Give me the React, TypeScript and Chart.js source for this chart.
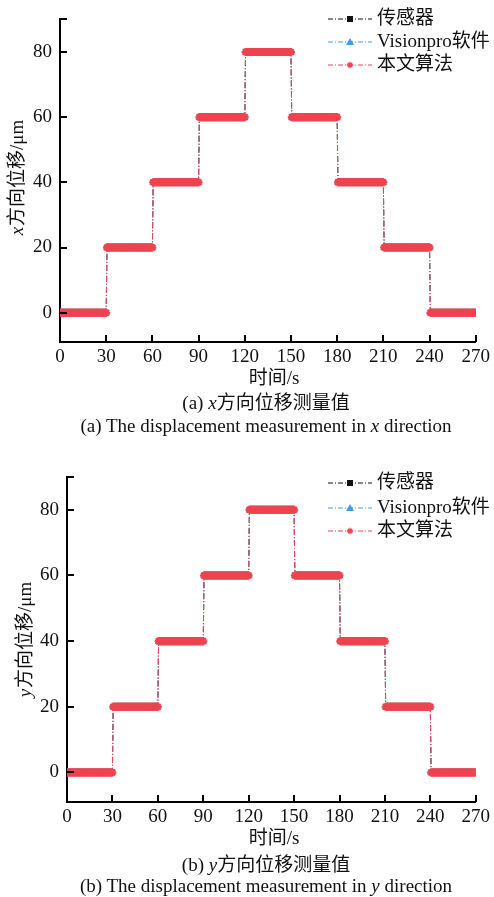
import React, { useEffect, useRef } from 'react';
import { Chart, registerables } from 'chart.js';

Chart.register(...registerables);

// ---------- data ----------
const timeTicks = [0, 30, 60, 90, 120, 150, 180, 210, 240, 270];
const dispTicks = [0, 20, 40, 60, 80];
const segmentStarts = [0, 30, 60, 90, 120, 150, 180, 210, 240];
const segmentEnds = [30, 60, 90, 120, 150, 180, 210, 240, 270];
const sampleStep = 0.5;

const xSensor = [0, 20, 40, 60, 80, 60, 40, 20, 0];
const xVisionpro = [0, 20, 40, 60, 80, 60, 40, 20, 0];
const xOurs = [0, 20, 40, 60, 80, 60, 40, 20, 0];

const ySensor = [0, 20, 40, 60, 80, 60, 40, 20, 0];
const yVisionpro = [0, 20, 40, 60, 80, 60, 40, 20, 0];
const yOurs = [0, 20, 40, 60, 80, 60, 40, 20, 0];

const seriesNames = ['传感器', 'Visionpro软件', '本文算法'];
const xAxisTitle = '时间/s';
const yAxisRest = '方向位移/μm';

const FONT = '"Liberation Serif", "Noto Sans CJK SC", serif';
const FS = 19;
const BLACK = '#111111';
const BLUE = '#3f9fdc';
const RED = '#ee4450';

function expand(levels: number[]) {
  const pts: { x: number; y: number }[] = [];
  for (let i = 0; i < levels.length; i++) {
    const start = segmentStarts[i] + (i === 0 ? 0 : sampleStep);
    for (let t = start; t <= segmentEnds[i] + 1e-9; t += sampleStep) {
      pts.push({ x: t, y: levels[i] });
    }
  }
  return pts;
}

type Cfg = {
  height: number;
  pad: { left: number; right: number; top: number };
  yWidth: number;
  xHeight: number;
  legendRows: number[];
  xTitleX: number;
  xTitleY: number;
  yTitleX: number;
  yTitleY: number;
  variable: string;
  series: number[][];
};

function drawMarker(ctx: CanvasRenderingContext2D, kind: number, x: number, y: number) {
  ctx.save();
  ctx.setLineDash([]);
  if (kind === 0) {
    ctx.fillStyle = BLACK;
    ctx.fillRect(x - 3, y - 3, 6, 6);
  } else if (kind === 1) {
    ctx.fillStyle = BLUE;
    ctx.beginPath();
    ctx.moveTo(x, y - 4);
    ctx.lineTo(x + 4, y + 3);
    ctx.lineTo(x - 4, y + 3);
    ctx.closePath();
    ctx.fill();
  } else {
    ctx.strokeStyle = RED;
    ctx.lineWidth = 1.3;
    ctx.beginPath();
    const r = 3.2;
    ctx.moveTo(x - r, y);
    ctx.lineTo(x + r, y);
    ctx.moveTo(x, y - r);
    ctx.lineTo(x, y + r);
    const d = r * 0.7;
    ctx.moveTo(x - d, y - d);
    ctx.lineTo(x + d, y + d);
    ctx.moveTo(x - d, y + d);
    ctx.lineTo(x + d, y - d);
    ctx.stroke();
  }
  ctx.restore();
}

function makePlugin(cfg: Cfg) {
  return {
    id: 'decor',
    afterDraw(chart: any) {
      const ctx: CanvasRenderingContext2D = chart.ctx;
      const xs = chart.scales.x;
      const ys = chart.scales.y;
      const area = chart.chartArea;
      ctx.save();
      // inward ticks
      ctx.strokeStyle = '#000';
      ctx.lineWidth = 2;
      ctx.setLineDash([]);
      ctx.beginPath();
      timeTicks.forEach((v) => {
        const px = Math.round(xs.getPixelForValue(v));
        ctx.moveTo(px, area.bottom);
        ctx.lineTo(px, area.bottom - 7);
      });
      [...dispTicks, ys.max].forEach((v) => {
        const py = Math.round(ys.getPixelForValue(v));
        ctx.moveTo(area.left, py);
        ctx.lineTo(area.left + 7, py);
      });
      ctx.stroke();

      // legend
      const colors = [BLACK, BLUE, RED];
      ctx.font = `${FS}px ${FONT}`;
      ctx.textBaseline = 'middle';
      ctx.textAlign = 'left';
      cfg.legendRows.forEach((ry, i) => {
        ctx.strokeStyle = colors[i];
        ctx.lineWidth = 1;
        ctx.setLineDash([5, 2, 1, 2]);
        ctx.beginPath();
        ctx.moveTo(328, ry);
        ctx.lineTo(372, ry);
        ctx.stroke();
        drawMarker(ctx, i, 350, ry);
        ctx.fillStyle = BLACK;
        ctx.fillText(seriesNames[i], 377, ry);
      });

      // x title
      ctx.textAlign = 'center';
      ctx.fillText(xAxisTitle, cfg.xTitleX, cfg.xTitleY);

      // y title (rotated, italic variable)
      ctx.translate(cfg.yTitleX, cfg.yTitleY);
      ctx.rotate(-Math.PI / 2);
      ctx.textAlign = 'left';
      ctx.font = `italic ${FS}px ${FONT}`;
      const w1 = ctx.measureText(cfg.variable).width;
      ctx.font = `${FS}px ${FONT}`;
      const w2 = ctx.measureText(yAxisRest).width;
      const start = -(w1 + w2) / 2;
      ctx.font = `italic ${FS}px ${FONT}`;
      ctx.fillText(cfg.variable, start, 0);
      ctx.font = `${FS}px ${FONT}`;
      ctx.fillText(yAxisRest, start + w1 + 1, 0);
      ctx.restore();
    },
  };
}

function StepChart({ cfg }: { cfg: Cfg }) {
  const ref = useRef<HTMLCanvasElement>(null);
  useEffect(() => {
    if (!ref.current) return;
    const styles = [
      { color: BLACK, style: 'rect', order: 2, radius: 3, bw: 0.5 },
      { color: BLUE, style: 'triangle', order: 1, radius: 4, bw: 0.5 },
      { color: RED, style: 'star', order: 0, radius: 4, bw: 2 },
    ];
    const chart = new Chart(ref.current, {
      type: 'line',
      data: {
        datasets: cfg.series.map((lv, i) => ({
          label: seriesNames[i],
          data: expand(lv),
          borderColor: styles[i].color,
          backgroundColor: styles[i].color,
          pointBackgroundColor: styles[i].color,
          pointBorderColor: styles[i].color,
          pointStyle: styles[i].style as any,
          pointRadius: styles[i].radius,
          pointBorderWidth: styles[i].bw,
          borderWidth: 1,
          borderDash: [6, 2, 1, 2],
          order: styles[i].order,
          tension: 0,
        })),
      },
      options: {
        animation: false,
        responsive: false,
        maintainAspectRatio: false,
        layout: { padding: { left: cfg.pad.left, right: cfg.pad.right, top: cfg.pad.top, bottom: 0 } },
        plugins: { legend: { display: false }, tooltip: { enabled: false } },
        scales: {
          x: {
            type: 'linear',
            min: 0,
            max: 270,
            grid: { display: false, drawTicks: false },
            border: { display: true, color: '#000', width: 2 },
            afterBuildTicks: (s: any) => {
              s.ticks = timeTicks.map((v) => ({ value: v }));
            },
            afterFit: (s: any) => {
              s.height = cfg.xHeight;
            },
            ticks: {
              color: BLACK,
              font: { family: FONT, size: FS },
              padding: 4,
              maxRotation: 0,
              autoSkip: false,
            },
          },
          y: {
            type: 'linear',
            min: -9,
            max: 90,
            grid: { display: false, drawTicks: false },
            border: { display: true, color: '#000', width: 2 },
            afterBuildTicks: (s: any) => {
              s.ticks = dispTicks.map((v) => ({ value: v }));
            },
            afterFit: (s: any) => {
              s.width = cfg.yWidth;
            },
            ticks: {
              color: BLACK,
              font: { family: FONT, size: FS },
              padding: 8,
            },
          },
        },
      },
      plugins: [makePlugin(cfg)],
    } as any);
    return () => chart.destroy();
  }, [cfg]);
  return <canvas ref={ref} width={494} height={cfg.height} style={{ display: 'block', width: 494, height: cfg.height }} />;
}

const cfgA: Cfg = {
  height: 395,
  pad: { left: 0, right: 16, top: 13 },
  yWidth: 60,
  xHeight: 53,
  legendRows: [19, 42, 65],
  xTitleX: 274,
  xTitleY: 379,
  yTitleX: 18,
  yTitleY: 178,
  variable: 'x',
  series: [xSensor, xVisionpro, xOurs],
};

const cfgB: Cfg = {
  height: 410,
  pad: { left: 0, right: 15, top: 37 },
  yWidth: 67,
  xHeight: 48,
  legendRows: [43, 68, 91],
  xTitleX: 274,
  xTitleY: 399,
  yTitleX: 26,
  yTitleY: 200,
  variable: 'y',
  series: [ySensor, yVisionpro, yOurs],
};

const captionStyle: React.CSSProperties = {
  position: 'absolute',
  left: 0,
  width: 532,
  textAlign: 'center',
  fontFamily: FONT,
  fontSize: FS,
  lineHeight: '22px',
  color: BLACK,
  whiteSpace: 'nowrap',
};

export default function App() {
  return (
    <div style={{ position: 'absolute', left: 0, top: 0, width: 494, height: 897, background: '#fff', overflow: 'hidden' }}>
      <div style={{ position: 'absolute', left: 0, top: 0 }}>
        <StepChart cfg={cfgA} />
      </div>
      <div style={{ ...captionStyle, top: 392 }}>
        (a) <i>x</i>方向位移测量值
      </div>
      <div style={{ ...captionStyle, top: 415 }}>
        (a) The displacement measurement in <i>x</i> direction
      </div>
      <div style={{ position: 'absolute', left: 0, top: 440 }}>
        <StepChart cfg={cfgB} />
      </div>
      <div style={{ ...captionStyle, top: 854 }}>
        (b) <i>y</i>方向位移测量值
      </div>
      <div style={{ ...captionStyle, top: 875 }}>
        (b) The displacement measurement in <i>y</i> direction
      </div>
    </div>
  );
}
